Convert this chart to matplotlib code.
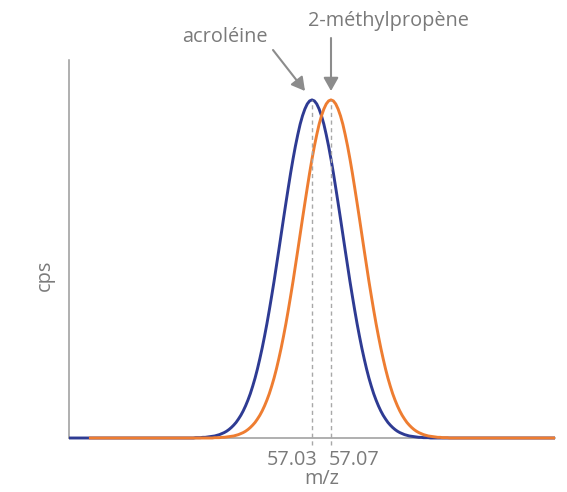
import numpy as np
import matplotlib
matplotlib.use("Agg")
import matplotlib.pyplot as plt
from matplotlib.patches import FancyArrowPatch

# ---- data ----
peak_labels = ["acroléine", "2-méthylpropène"]
peak_centers = [57.03, 57.07]
peak_heights = [1.0, 1.0]
tick_labels = ["57.03", "57.07"]
axis_label_x = "m/z"
axis_label_y = "cps"

# half peak profile (relative intensity) read at 0, 0.005, 0.010, ... m/z from the apex;
# both peaks show the same shape, mirrored on each side of the apex
peak_profile = [1.000, 0.997, 0.988, 0.973, 0.953, 0.928, 0.897, 0.863, 0.825, 0.784,
                0.740, 0.695, 0.649, 0.602, 0.555, 0.509, 0.463, 0.420, 0.378, 0.338,
                0.301, 0.266, 0.234, 0.204, 0.177, 0.153, 0.131, 0.112, 0.095, 0.080,
                0.067, 0.056, 0.046, 0.038, 0.031, 0.025, 0.020, 0.016, 0.013, 0.010,
                0.008, 0.006, 0.005, 0.004, 0.003, 0.002, 0.002, 0.001, 0.001, 0.001,
                0.000]
profile_step = 0.005
mz_range = [56.518, 57.542]
mz_start_methylpropene = 56.56

# ---- build series ----
def series(center, height, start):
    half = np.array(peak_profile) * height
    d = np.arange(len(peak_profile)) * profile_step
    x = np.concatenate([center - d[:0:-1], center + d])
    y = np.concatenate([half[:0:-1], half])
    x = np.concatenate([[start], x, [mz_range[1]]])
    y = np.concatenate([[0.0], y, [0.0]])
    return x, y

mz_acroleine, cps_acroleine = series(peak_centers[0], peak_heights[0], mz_range[0])
mz_methylpropene, cps_methylpropene = series(peak_centers[1], peak_heights[1],
                                             mz_start_methylpropene)

# ---- styling ----
W, H = 567, 492
BLUE = "#2E3B93"
ORANGE = "#EE7D31"
GREY_AX = "#9A9A9A"
GREY_TXT = "#7A7A7A"
GREY_ARROW = "#8C8C8C"
FONT = ["Open Sans", "DejaVu Sans"]
FS = 14.3

fig = plt.figure(figsize=(W / 100, H / 100), dpi=100)
fig.patch.set_facecolor("white")

def fx(x):
    return x / W

def fy(y):
    return 1 - y / H

ax = fig.add_axes([fx(69), fy(438), fx(555) - fx(69), fy(60) - fy(438)])
ax.set_xlim(*mz_range)
ax.set_ylim(0, 1.118)

ax.plot(mz_acroleine, cps_acroleine, color=BLUE, lw=2.1, solid_joinstyle="round",
        solid_capstyle="butt", zorder=3, clip_on=False)
ax.plot(mz_methylpropene, cps_methylpropene, color=ORANGE, lw=2.1,
        solid_joinstyle="round", solid_capstyle="butt", zorder=4, clip_on=False)

for c, h in zip(peak_centers, peak_heights):
    ax.plot([c, c], [-0.021, h], color="#A8A8A8", lw=1.0, ls=(0, (3, 2.5)),
            zorder=5, clip_on=False)

for s in ["top", "right"]:
    ax.spines[s].set_visible(False)
for s in ["left", "bottom"]:
    ax.spines[s].set_color(GREY_AX)
    ax.spines[s].set_linewidth(1.1)
ax.set_xticks([])
ax.set_yticks([])

# tick labels
trans = ax.get_xaxis_transform()
ax.text(peak_centers[0] + 0.011, -0.033, tick_labels[0], transform=trans, ha="right",
        va="top", fontsize=FS, color=GREY_TXT, family=FONT)
ax.text(peak_centers[1] - 0.005, -0.033, tick_labels[1], transform=trans, ha="left",
        va="top", fontsize=FS, color=GREY_TXT, family=FONT)

fig.text(fx(322), fy(479), axis_label_x, ha="center", va="center", fontsize=FS,
         color=GREY_TXT, family=FONT)
fig.text(fx(45), fy(275), axis_label_y, ha="center", va="center", rotation=90,
         fontsize=FS, color=GREY_TXT, family=FONT)

# peak labels + arrows
fig.text(fx(225), fy(37), peak_labels[0], ha="center", va="center", fontsize=FS,
         color=GREY_TXT, family=FONT)
fig.text(fx(388), fy(21), peak_labels[1], ha="center", va="center", fontsize=FS,
         color=GREY_TXT, family=FONT)

for (x0, y0, x1, y1) in [(273, 50, 305, 91), (331, 38, 331, 91)]:
    arr = FancyArrowPatch((fx(x0), fy(y0)), (fx(x1), fy(y1)), transform=fig.transFigure,
                          arrowstyle="-|>,head_length=8,head_width=4.5", mutation_scale=1,
                          color=GREY_ARROW, lw=1.5, shrinkA=0, shrinkB=0)
    fig.add_artist(arr)

fig.savefig("out.png", dpi=100, facecolor="white")
